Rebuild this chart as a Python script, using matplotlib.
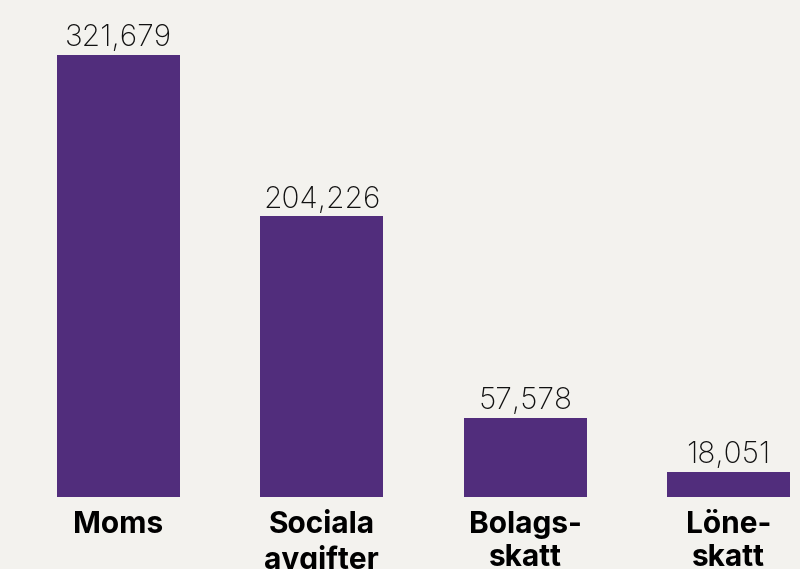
import matplotlib.pyplot as plt

kategorier = ["Moms", "Sociala\navgifter", "Bolags-\nskatt", "Löne-\nskatt"]
belopp = [321679, 204226, 57578, 18051]
etiketter = ["321,679", "204,226", "57,578", "18,051"]

bg = "#f3f2ee"
lila = "#512d7c"

fig = plt.figure(figsize=(8, 5.69), dpi=100, facecolor=bg)
ax = fig.add_axes([0, 0.1265, 1, 0.8735], facecolor=bg)

x = range(len(belopp))
stavar = ax.bar(x, belopp, width=0.605, color=lila)

for s, t in zip(stavar, etiketter):
    ax.annotate(t, (s.get_x() + s.get_width() / 2, s.get_height()),
                xytext=(0, 2), textcoords="offset points",
                ha="center", va="bottom", fontsize=21.5,
                family="Inter", fontweight="light", color="#111111")

ax.set_xlim(-0.583, 3.352)
ax.set_ylim(0, 361700)
ax.set_xticks(list(x))
ax.set_xticklabels(kategorier, family="Inter", fontweight="bold",
                   fontsize=21.5, linespacing=1.25, color="#000000")
ax.tick_params(axis="x", length=0, pad=10)
ax.set_yticks([])
for sp in ax.spines.values():
    sp.set_visible(False)

fig.savefig("out.png", dpi=100, facecolor=bg)
